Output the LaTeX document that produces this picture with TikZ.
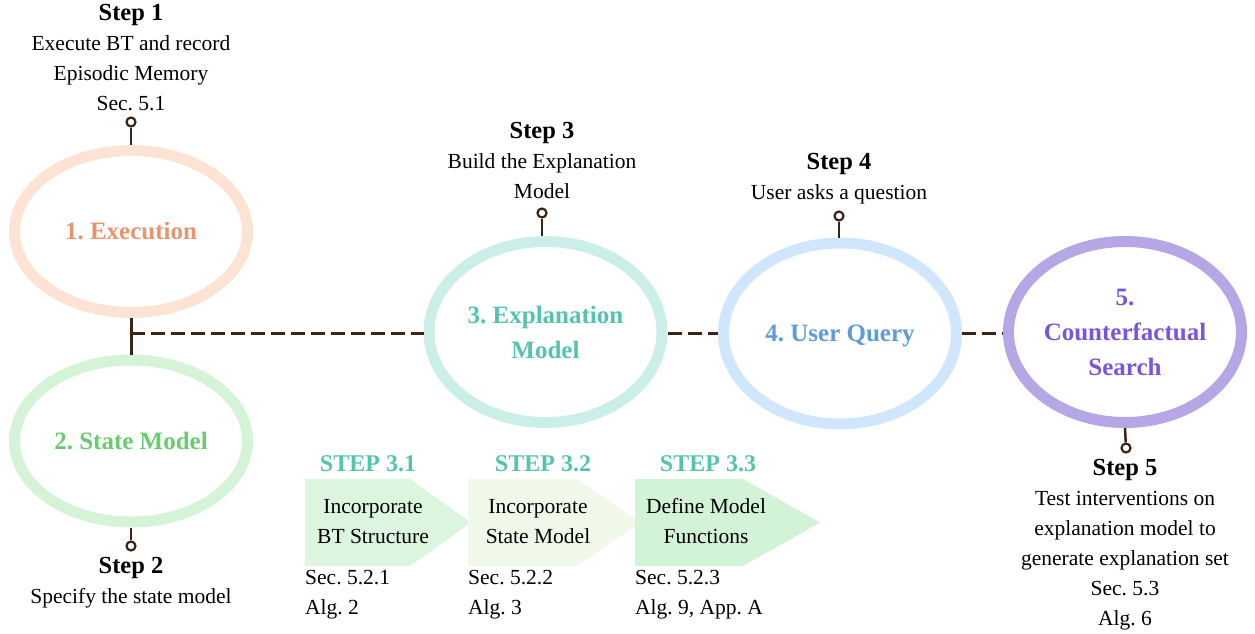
\documentclass[tikz,border=0pt]{standalone}
\usepackage{fontspec}
\setmainfont{Liberation Serif}
\usetikzlibrary{shapes.geometric}
\frenchspacing

\definecolor{execring}{HTML}{FDE3D4}
\definecolor{exectext}{HTML}{E8956D}
\definecolor{statering}{HTML}{D5F3D6}
\definecolor{statetext}{HTML}{6CCB6E}
\definecolor{explring}{HTML}{CCEEE8}
\definecolor{expltext}{HTML}{55C4AE}
\definecolor{queryring}{HTML}{CFE6FC}
\definecolor{querytext}{HTML}{5B9CD9}
\definecolor{cfring}{HTML}{B6A6E6}
\definecolor{cftext}{HTML}{7856DC}
\definecolor{substep}{HTML}{55C4AE}
\definecolor{chevA}{HTML}{DCF5DE}
\definecolor{chevB}{HTML}{F0F9E9}
\definecolor{chevC}{HTML}{D3F3D6}
\definecolor{linkbrown}{HTML}{3B2415}

\begin{document}
\begin{tikzpicture}[x=1pt,y=-1pt,
  phase/.style={ellipse, draw, line width=11pt, inner sep=0pt,
    minimum width=233pt, minimum height=181pt, align=center,
    font=\fontsize{25}{35}\selectfont\bfseries},
  link/.style={draw=linkbrown, line width=3pt},
  dashlink/.style={link, dash pattern=on 14pt off 6pt},
  pinlink/.style={draw=linkbrown, line width=2.5pt},
  pinhead/.style={circle, draw=linkbrown, line width=2.2pt, fill=white,
    minimum size=9pt, inner sep=0pt},
  note/.style={align=center, inner sep=0pt, anchor=north,
    font=\fontsize{21.5}{30}\selectfont},
  refs/.style={align=left, inner sep=0pt, anchor=north west,
    font=\fontsize{21.5}{30}\selectfont},
  substeplabel/.style={inner sep=0pt, anchor=base, text=substep,
    font=\fontsize{24}{30}\selectfont\bfseries},
]
\useasboundingbox (0,0) rectangle (1255,634);

% phase rings
\node[phase, draw=execring, text=exectext, minimum height=162pt] (E1) at (131,231.5) {1. Execution};
\node[phase, draw=statering, text=statetext, minimum height=162pt] (E2) at (131,441) {2. State Model};
\node[phase, draw=explring, text=expltext] (E3) at (545.5,332) {3. Explanation\\Model};
\node[phase, draw=queryring, text=querytext, text depth=0pt] (E4) at (840,333.5) {4. User Query};
\node[phase, draw=cfring, text=cftext] (E5) at (1125,332) {5.\\Counterfactual\\Search};

% connectors between the phases
\coordinate (jn) at (131,333.5);
\draw[link] (E1.south) -- (E2.north);
\draw[dashlink] (jn) -- (jn -| E3.west);
\draw[dashlink] (E4.west -| E3.east) -- (E4.west);
\draw[dashlink] (E4.east) -- (E4.east -| E5.west);

% pins to the step descriptions
\node[pinhead] (p1) at (131,122) {};
\node[pinhead] (p2) at (131,546) {};
\node[pinhead] (p3) at (542,213) {};
\node[pinhead] (p4) at (839,216) {};
\node[pinhead] (p5) at (1126,448) {};
\draw[pinlink] (p1) -- (E1.north);
\draw[pinlink] (E2.south) -- (p2);
\draw[pinlink] (p3) -- (p3 |- E3.north);
\draw[pinlink] (p4) -- (p4 |- E4.north);
\draw[pinlink] (E5.south) -- (p5);

% step descriptions
\node[note] (s1) at (131,0) {\rule{0pt}{20pt}{\fontsize{24.5}{30}\selectfont\bfseries Step 1}\\Execute BT and record\\Episodic Memory\\Sec. 5.1};
\node[note] (s2) at (131,553) {\rule{0pt}{20pt}{\fontsize{24.5}{30}\selectfont\bfseries Step 2}\\Specify the state model};
\node[note] (s3) at (542,118.5) {\rule{0pt}{20pt}{\fontsize{24.5}{30}\selectfont\bfseries Step 3}\\Build the Explanation\\Model};
\node[note] (s4) at (839,149.5) {\rule{0pt}{20pt}{\fontsize{24.5}{30}\selectfont\bfseries Step 4}\\User asks a question};
\node[note] (s5) at (1125,455) {\rule{0pt}{20pt}{\fontsize{24.5}{30}\selectfont\bfseries Step 5}\\Test interventions on\\explanation model to\\generate explanation set\\Sec. 5.3\\Alg. 6};

% sub-steps of step 3
\fill[chevA] (305,479) -- (410,479) -- (471,522.5) -- (410,566) -- (305,566) -- cycle;
\fill[chevB] (468,479) -- (577,479) -- (640,522.5) -- (577,566) -- (468,566) -- cycle;
\fill[chevC] (635,479) -- (743,479) -- (820,522.5) -- (743,566) -- (635,566) -- cycle;

\node[substeplabel] (l1) at (368,471) {STEP 3.1};
\node[substeplabel] (l2) at (543,471) {STEP 3.2};
\node[substeplabel] (l3) at (708,471) {STEP 3.3};

\node[note] (c1) at (373,493) {\rule{0pt}{20pt}Incorporate\\BT Structure};
\node[note] (c2) at (538,493) {\rule{0pt}{20pt}Incorporate\\State Model};
\node[note] (c3) at (706,493) {\rule{0pt}{20pt}Define Model\\Functions};

\node[refs] (r1) at (305,564) {\rule{0pt}{20pt}Sec. 5.2.1\\Alg. 2};
\node[refs] (r2) at (468,564) {\rule{0pt}{20pt}Sec. 5.2.2\\Alg. 3};
\node[refs] (r3) at (635,564) {\rule{0pt}{20pt}Sec. 5.2.3\\Alg. 9, App. A};
\end{tikzpicture}
\end{document}
